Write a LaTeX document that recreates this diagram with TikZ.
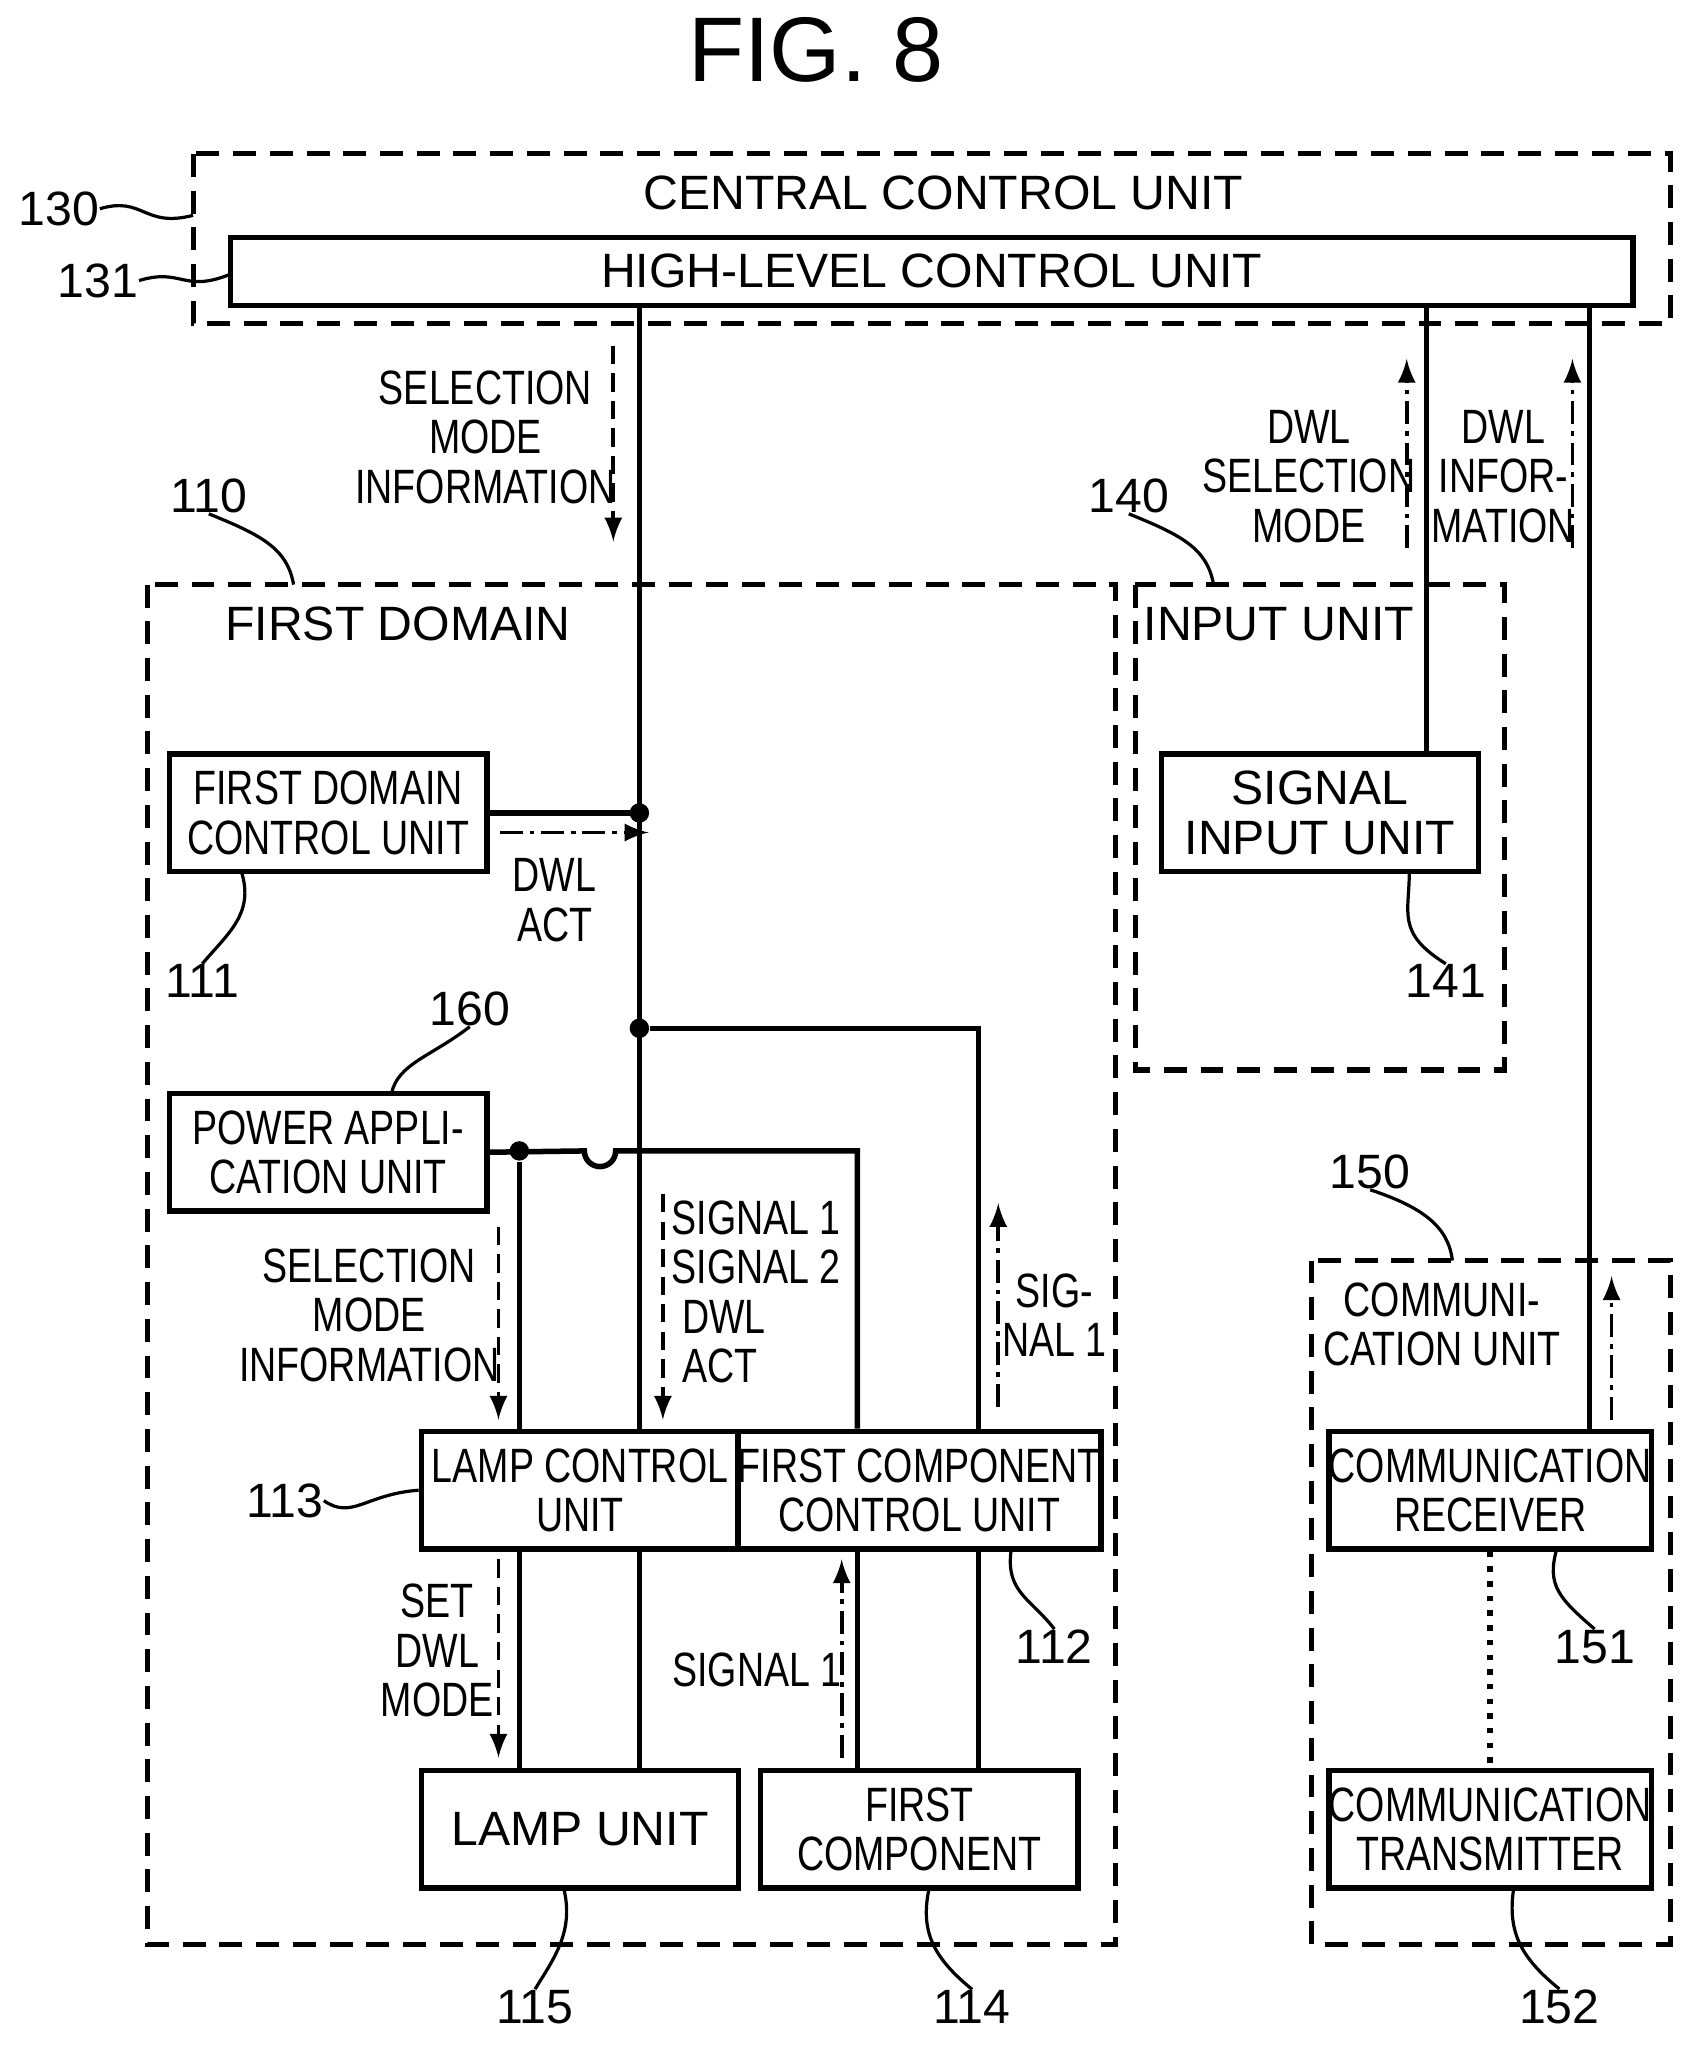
\documentclass[tikz,border=0pt]{standalone}
\usepackage{fontspec}
\setmainfont{Liberation Sans}[FakeStretch=0.78]
\newfontfamily\widefont{Liberation Sans}
\begin{document}
\begin{tikzpicture}[x=0.01cm,y=-0.01cm,
  every node/.style={font=\fontsize{10.5}{10.8}\selectfont,align=center,inner sep=0pt},
  box/.style={draw,line width=1.2pt,minimum width=2.43cm,minimum height=0.9cm,font=\fontsize{10.5}{10.8}\selectfont},
  wf/.style={font=\widefont\fontsize{10.5}{12}\selectfont},
  dom/.style={draw,line width=1.1pt,dash pattern=on 5pt off 3pt},
  ln/.style={line width=1.2pt},
  lead/.style={line width=0.7pt},
  darr/.style={line width=0.8pt,dash pattern=on 4pt off 2pt,-latex},
  dd/.style={line width=0.8pt,dash pattern=on 5pt off 1.5pt on 1pt off 1.5pt,-latex},
  dot/.style={circle,fill,inner sep=1.5pt}]
\useasboundingbox (0,0) rectangle (1300,1571);
\node[font=\widefont\fontsize{20}{22}\selectfont] (title) at (625,38) {FIG. 8};
% central
\draw[dom] (148,118) rectangle (1280,248);
\node[wf] (ccu) at (723,148) {CENTRAL CONTROL UNIT};
\node[draw,line width=1.2pt,minimum width=10.74cm,minimum height=0.52cm,wf] (hlcu) at (714,208) {HIGH-LEVEL CONTROL UNIT};
\node[wf] (l130) at (45,160) {130};
\node[wf] (l131) at (75,215) {131};
\draw[lead] (l130.east) .. controls (110,150) and (110,175) .. (148,165);
\draw[lead] (l131.east) .. controls (140,205) and (140,225) .. (177,210);
\coordinate (m) at (490,0);
\coordinate (a) at (1093,0);
\coordinate (b) at (1218,0);
% domains
\draw[dom] (113,448) rectangle (855,1490);
\node[wf] (fd) at (305,478) {FIRST DOMAIN};
\node[wf] (l110) at (160,380) {110};
\draw[lead] (l110.south) .. controls (200,410) and (220,420) .. (225,448);
\draw[dom] (870,448) rectangle (1153,820);
\node[wf] (iu) at (980,478) {INPUT UNIT};
\node[wf] (l140) at (865,380) {140};
\draw[lead] (l140.south) .. controls (905,410) and (925,420) .. (930,448);
\draw[dom] (1005,966) rectangle (1280,1490);
\node (cu) at (1105,1015) {COMMUNI-\\CATION UNIT};
\node[wf] (l150) at (1050,898) {150};
\draw[lead] (l150.south) .. controls (1090,925) and (1110,940) .. (1113,966);
% boxes
\node[box] (fdcu) at (251.5,623) {FIRST DOMAIN\\CONTROL UNIT};
\node[box] (pau) at (251.5,883) {POWER APPLI-\\CATION UNIT};
\node[box] (lcu) at (444.5,1142) {LAMP CONTROL\\UNIT};
\node[box] (fccu) at (704.5,1142) {FIRST COMPONENT\\CONTROL UNIT};
\node[box,wf] (lu) at (444.5,1402) {LAMP UNIT};
\node[box] (fc) at (704.5,1402) {FIRST\\COMPONENT};
\node[box,font=\widefont\fontsize{10.5}{11}\selectfont] (siu) at (1011.5,623) {SIGNAL\\INPUT UNIT};
\node[box] (cr) at (1142,1142) {COMMUNICATION\\RECEIVER};
\node[box] (ct) at (1142,1402) {COMMUNICATION\\TRANSMITTER};
% number labels
\node[wf] (l111) at (155,752) {111};
\draw[lead] (l111.north) .. controls (175,715) and (195,700) .. (185,668);
\node[wf] (l160) at (360,773) {160};
\draw[lead] (l160.south) .. controls (330,810) and (305,815) .. (300,838);
\node[wf] (l113) at (218,1150) {113};
\draw[lead] (l113.east) .. controls (270,1165) and (280,1145) .. (lcu.west);
\node[wf] (l112) at (808,1262) {112};
\draw[lead] (l112.north) .. controls (790,1225) and (770,1220) .. (775,1187);
\node[wf] (l115) at (410,1538) {115};
\draw[lead] (l115.north) .. controls (425,1500) and (440,1480) .. (432,1447);
\node[wf] (l114) at (745,1538) {114};
\draw[lead] (l114.north) .. controls (715,1500) and (705,1480) .. (712,1447);
\node[wf] (l141) at (1108,752) {141};
\draw[lead] (l141.north) .. controls (1070,715) and (1080,700) .. (1080,668);
\node[wf] (l151) at (1222,1262) {151};
\draw[lead] (l151.north) .. controls (1195,1225) and (1185,1215) .. (1193,1187);
\node[wf] (l152) at (1195,1538) {152};
\draw[lead] (l152.north) .. controls (1165,1500) and (1155,1480) .. (1160,1447);
% lines
\coordinate (p) at (398,0); \coordinate (q) at (657,0); \coordinate (r) at (750,0);
\draw[ln] (hlcu.south -| m) -- (lcu.north -| m);
\draw[ln] (hlcu.south -| a) -- (siu.north -| a);
\draw[ln] (hlcu.south -| b) -- (cr.north -| b);
\draw[ln] (fdcu.east) -- (fdcu.east -| m) node[dot] (d1) {};
\coordinate (j2) at (490,788);
\node[dot] (d2) at (j2) {};
\draw[ln] (d2) -- (j2 -| r) -- (fccu.north -| r);
\coordinate (h) at (490,882);
\draw[ln] (pau.east) -- ([xshift=-12]h) arc[start angle=180,end angle=0,radius=12] -- (h -| q) -- (fccu.north -| q);
\node[dot] (d3) at (h -| p) {};
\draw[ln] (d3) -- (lcu.north -| p);
\draw[ln] (lcu.south -| p) -- (lu.north -| p);
\draw[ln] (lcu.south -| m) -- (lu.north -| m);
\draw[ln] (fccu.south -| q) -- (fc.north -| q);
\draw[ln] (fccu.south -| r) -- (fc.north -| r);
\draw[line width=1.2pt,dotted] (cr.south) -- (ct.north);
% arrows and texts
\coordinate (s1) at (470,265); \coordinate (e1) at (470,415);
\draw[darr] (s1) -- (e1);
\node (t1) at (372,335) {SELECTION\\MODE\\INFORMATION};
\coordinate (s2) at (1078,420); \coordinate (e2) at (1078,275);
\draw[dd] (s2) -- (e2);
\node (t2) at (1003,365) {DWL\\SELECTION\\MODE};
\coordinate (s3) at (1205,420); \coordinate (e3) at (1205,275);
\draw[dd] (s3) -- (e3);
\node (t3) at (1152,365) {DWL\\INFOR-\\MATION};
\coordinate (s4) at (383,638); \coordinate (e4) at (497,638);
\draw[dd] (s4) -- (e4);
\node (t4) at (425,690) {DWL\\ACT};
\coordinate (s5) at (382,940); \coordinate (e5) at (382,1088);
\draw[darr] (s5) -- (e5);
\node (t5) at (283,1008) {SELECTION\\MODE\\INFORMATION};
\coordinate (s6) at (508,915); \coordinate (e6) at (508,1088);
\draw[darr] (s6) -- (e6);
\node[align=left,anchor=west] (t6) at (514,990) {SIGNAL 1\\SIGNAL 2\\\ DWL\\\ ACT};
\coordinate (s7) at (765,1078); \coordinate (e7) at (765,922);
\draw[dd] (s7) -- (e7);
\node (t7) at (808,1008) {SIG-\\NAL 1};
\coordinate (s8) at (382,1195); \coordinate (e8) at (382,1347);
\draw[darr] (s8) -- (e8);
\node (t8) at (335,1265) {SET\\DWL\\MODE};
\coordinate (s9) at (645,1347); \coordinate (e9) at (645,1195);
\draw[dd] (s9) -- (e9);
\node (t9) at (580,1280) {SIGNAL 1};
\coordinate (s10) at (1235,1088); \coordinate (e10) at (1235,978);
\draw[dd] (s10) -- (e10);
\end{tikzpicture}
\end{document}
